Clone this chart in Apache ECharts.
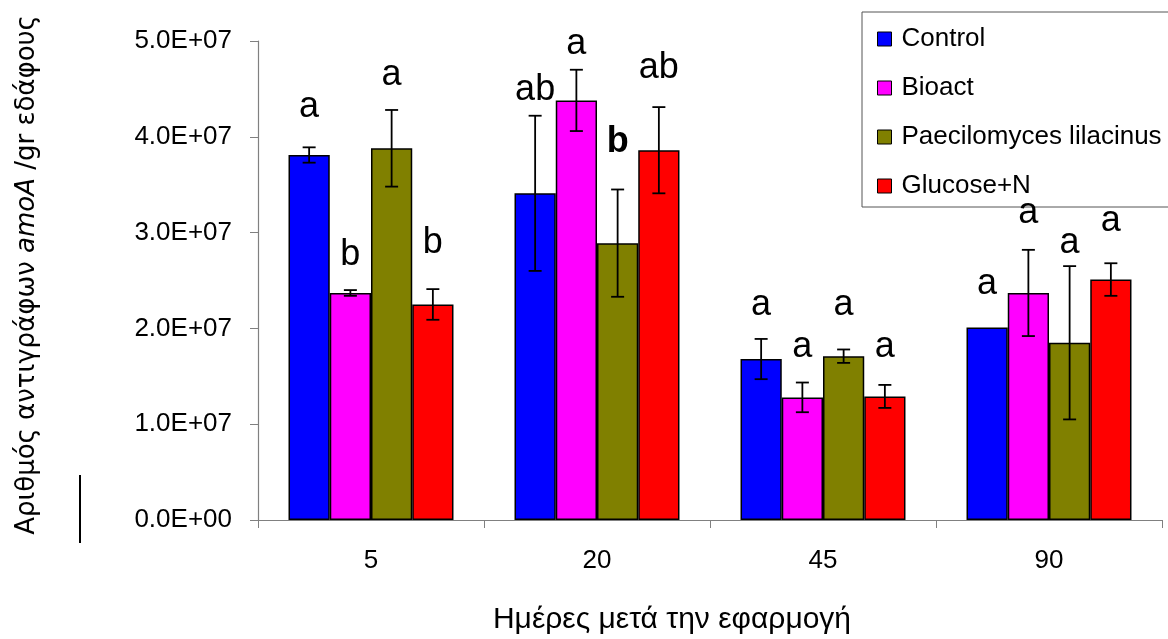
<!DOCTYPE html>
<html>
<head>
<meta charset="utf-8">
<script src="https://cdn.jsdelivr.net/npm/echarts@6/dist/echarts.min.js"></script>
<style>
  html, body { margin: 0; padding: 0; background: #fff; }
  #main { width: 1168px; height: 639px; }
</style>
</head>
<body>
<div id="main"></div>
<script>
// days after application (x categories)
const days = ['5', '20', '45', '90'];
const seriesNames = ['Control', 'Bioact', 'Paecilomyces lilacinus', 'Glucose+N'];

// means
const controlVals = [3.81e7, 3.41e7, 1.68e7, 2.01e7];
const bioactVals  = [2.37e7, 4.38e7, 1.28e7, 2.37e7];
const paecVals    = [3.88e7, 2.89e7, 1.71e7, 1.85e7];
const glucoseVals = [2.25e7, 3.86e7, 1.29e7, 2.51e7];

// +/- error
const controlErr = [0.08e7, 0.81e7, 0.21e7, 0];
const bioactErr  = [0.03e7, 0.32e7, 0.155e7, 0.45e7];
const paecErr    = [0.40e7, 0.56e7, 0.07e7, 0.80e7];
const glucoseErr = [0.16e7, 0.45e7, 0.12e7, 0.17e7];

// significance letters and the height they sit at
const controlLetters = ['a', 'ab', 'a', 'a'];
const bioactLetters  = ['b', 'a', 'a', 'a'];
const paecLetters    = ['a', 'b', 'a', 'a'];
const glucoseLetters = ['b', 'ab', 'a', 'a'];
const controlLetterY = [4.31e7, 4.49e7, 2.24e7, 2.46e7];
const bioactLetterY  = [2.77e7, 4.97e7, 1.80e7, 3.20e7];
const paecLetterY    = [4.64e7, 3.94e7, 2.24e7, 2.89e7];
const glucoseLetterY = [2.89e7, 4.72e7, 1.80e7, 3.12e7];

const yTicks = [0, 1e7, 2e7, 3e7, 4e7, 5e7];

const colors = ['#0000FF', '#FF00FF', '#808000', '#FF0000'];
const boldLabel = { series: 2, day: 1 };
const gapPct = 27;

const vals = [controlVals, bioactVals, paecVals, glucoseVals];
const errs = [controlErr, bioactErr, paecErr, glucoseErr];
const letters = [controlLetters, bioactLetters, paecLetters, glucoseLetters];
const letterY = [controlLetterY, bioactLetterY, paecLetterY, glucoseLetterY];

function sci(v) {
  if (v === 0) return '0.0E+00';
  const e = Math.floor(Math.log10(v) + 1e-9);
  const m = v / Math.pow(10, e);
  return m.toFixed(1) + 'E+' + String(e).padStart(2, '0');
}

const barSeries = seriesNames.map(function (name, k) {
  return {
    name: name,
    type: 'bar',
    data: vals[k],
    barGap: '0%',
    barCategoryGap: gapPct + '%',
    itemStyle: { color: colors[k], borderColor: '#000', borderWidth: 1.5 },
    emphasis: { disabled: true }
  };
});

const errSeries = seriesNames.map(function (name, k) {
  return {
    type: 'custom',
    silent: true,
    z: 20,
    encode: { x: 0, y: 1 },
    data: days.map(function (d, i) {
      return [i, vals[k][i], errs[k][i], letterY[k][i]];
    }),
    renderItem: function (params, api) {
      const i = api.value(0);
      const band = api.size([1, 0])[0];
      const barW = band * (1 - gapPct / 100) / 4;
      const c = api.coord([i, api.value(1)]);
      const x = c[0] + (k - 1.5) * barW;
      const top = api.coord([i, api.value(1) + api.value(2)])[1];
      const bot = api.coord([i, api.value(1) - api.value(2)])[1];
      const ly = api.coord([i, api.value(3)])[1];
      const cap = 6.5;
      const children = [];
      if (api.value(2) > 0) {
        const ls = { stroke: '#000', lineWidth: 1.8 };
        children.push({ type: 'line', shape: { x1: x, y1: top, x2: x, y2: bot }, style: ls });
        children.push({ type: 'line', shape: { x1: x - cap, y1: top, x2: x + cap, y2: top }, style: ls });
        children.push({ type: 'line', shape: { x1: x - cap, y1: bot, x2: x + cap, y2: bot }, style: ls });
      }
      const bold = (k === boldLabel.series && i === boldLabel.day);
      children.push({
        type: 'text',
        style: {
          text: letters[k][i],
          x: x, y: ly,
          align: 'center', verticalAlign: 'middle',
          font: (bold ? 'bold ' : '') + '36px "Liberation Sans", Arial, sans-serif',
          fill: '#000'
        }
      });
      return { type: 'group', children: children };
    }
  };
});

const chart = echarts.init(document.getElementById('main'));
chart.setOption({
  backgroundColor: '#fff',
  animation: false,
  textStyle: { fontFamily: '"Liberation Sans", Arial, sans-serif', color: '#000' },
  grid: { left: 258, right: 6, top: 41, bottom: 119 },
  legend: {
    data: seriesNames,
    orient: 'vertical',
    left: 862,
    top: 12,
    padding: [14, 15, 8, 15],
    itemWidth: 14,
    itemHeight: 14,
    itemGap: 23,
    icon: 'rect',
    backgroundColor: '#fff',
    borderColor: '#555',
    borderWidth: 1,
    borderRadius: 0,
    itemStyle: { borderColor: '#000', borderWidth: 1 },
    textStyle: { fontSize: 26, color: '#000', padding: [0, 0, 0, 5] },
    z: 10
  },
  xAxis: {
    type: 'category',
    data: days,
    axisLine: { lineStyle: { color: '#808080', width: 1.2 } },
    axisTick: { show: true, length: 8, lineStyle: { color: '#808080' } },
    axisLabel: { fontSize: 26, color: '#000', margin: 28 },
    splitLine: { show: false }
  },
  yAxis: {
    type: 'value',
    min: yTicks[0],
    max: yTicks[yTicks.length - 1],
    interval: yTicks[1] - yTicks[0],
    axisLine: { show: true, lineStyle: { color: '#808080', width: 1.2 } },
    axisTick: { show: true, length: 8, lineStyle: { color: '#808080' } },
    axisLabel: { fontSize: 26, color: '#000', margin: 26, formatter: sci },
    splitLine: { show: false }
  },
  graphic: [
    {
      type: 'text',
      x: 27, y: 275,
      rotation: Math.PI / 2,
      style: {
        text: '{n|Αριθμός αντιγράφων }{i|amoA}{n| /gr εδάφους}',
        align: 'center', verticalAlign: 'middle',
        rich: {
          n: { fontSize: 26, fontFamily: '"DejaVu Sans", sans-serif', fill: '#000' },
          i: { fontSize: 26, fontFamily: '"DejaVu Sans", sans-serif', fontStyle: 'italic', fill: '#000' }
        }
      }
    },
    {
      type: 'text',
      x: 672, y: 620,
      style: {
        text: 'Ημέρες μετά την εφαρμογή',
        align: 'center', verticalAlign: 'middle',
        font: '30px "Liberation Sans", Arial, sans-serif',
        fill: '#000'
      }
    },
    {
      type: 'line',
      shape: { x1: 80, y1: 475, x2: 80, y2: 543 },
      style: { stroke: '#000', lineWidth: 2 }
    }
  ],
  series: barSeries.concat(errSeries)
});
</script>
</body>
</html>
